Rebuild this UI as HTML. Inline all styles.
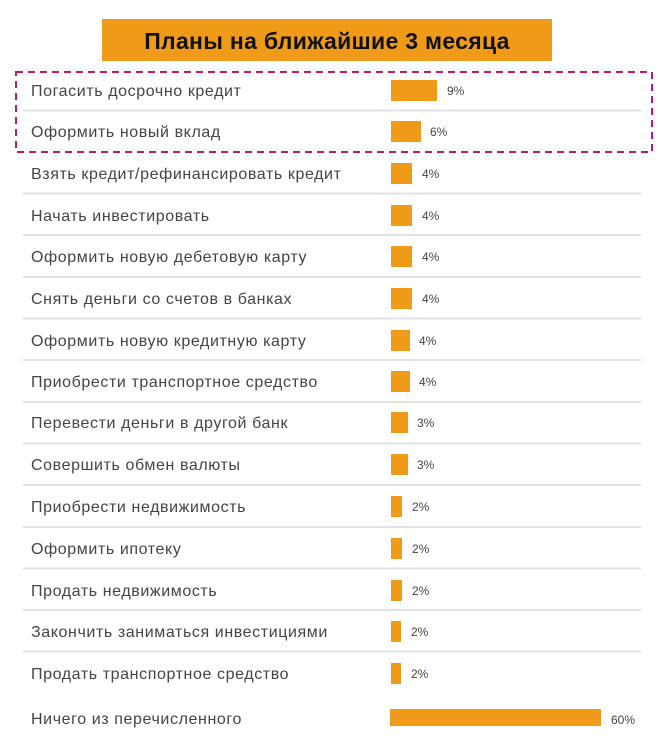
<!DOCTYPE html>
<html><head><meta charset="utf-8"><style>
html,body{margin:0;padding:0;background:#fff;}
svg{display:block;font-family:"Liberation Sans","DejaVu Sans",sans-serif;}
.l{font-size:16px;fill:#444;letter-spacing:0.6px;}
.p{font-size:12px;fill:#444;}
</style></head><body>
<svg width="669" height="743" viewBox="0 0 669 743">
<rect x="102" y="19" width="450" height="42" fill="#f09a1a"/>
<text x="327" y="49" text-anchor="middle" font-size="23" font-weight="bold" fill="#111" letter-spacing="0.3">Планы на ближайшие 3 месяца</text>
<rect x="16" y="72" width="636" height="80" fill="none" stroke="#c2186b" stroke-width="2" stroke-dasharray="7,5"/>
<g stroke="#e2e2e2" stroke-width="2">
<line x1="23" x2="641" y1="110.5" y2="110.5"/>
<line x1="23" x2="641" y1="193.5" y2="193.5"/>
<line x1="23" x2="641" y1="235" y2="235"/>
<line x1="23" x2="641" y1="277" y2="277"/>
<line x1="23" x2="641" y1="318.5" y2="318.5"/>
<line x1="23" x2="641" y1="360" y2="360"/>
<line x1="23" x2="641" y1="402" y2="402"/>
<line x1="23" x2="641" y1="443.5" y2="443.5"/>
<line x1="23" x2="641" y1="485" y2="485"/>
<line x1="23" x2="641" y1="527" y2="527"/>
<line x1="23" x2="641" y1="568.5" y2="568.5"/>
<line x1="23" x2="641" y1="610" y2="610"/>
<line x1="23" x2="641" y1="651.5" y2="651.5"/>
</g>
<g fill="#f09a1a">
<rect x="391" y="80" width="46" height="21"/>
<rect x="391" y="121" width="30" height="21"/>
<rect x="391" y="163" width="21" height="21"/>
<rect x="391" y="205" width="21" height="21"/>
<rect x="391" y="246" width="21" height="21"/>
<rect x="391" y="288" width="21" height="21"/>
<rect x="391" y="330" width="19" height="21"/>
<rect x="391" y="371" width="19" height="21"/>
<rect x="391" y="412" width="17" height="21"/>
<rect x="391" y="454" width="17" height="21"/>
<rect x="391" y="496" width="11" height="21"/>
<rect x="391" y="538" width="11" height="21"/>
<rect x="391" y="580" width="11" height="21"/>
<rect x="391" y="621" width="10" height="21"/>
<rect x="391" y="663" width="10" height="21"/>
<rect x="390" y="709" width="211" height="17"/>
</g>
<g class="l">
<text x="31" y="96">Погасить досрочно кредит</text>
<text x="31" y="137">Оформить новый вклад</text>
<text x="31" y="179">Взять кредит/рефинансировать кредит</text>
<text x="31" y="221">Начать инвестировать</text>
<text x="31" y="262">Оформить новую дебетовую карту</text>
<text x="31" y="304">Снять деньги со счетов в банках</text>
<text x="31" y="346">Оформить новую кредитную карту</text>
<text x="31" y="387">Приобрести транспортное средство</text>
<text x="31" y="428">Перевести деньги в другой банк</text>
<text x="31" y="470">Совершить обмен валюты</text>
<text x="31" y="512">Приобрести недвижимость</text>
<text x="31" y="554">Оформить ипотеку</text>
<text x="31" y="596">Продать недвижимость</text>
<text x="31" y="637">Закончить заниматься инвестициями</text>
<text x="31" y="679">Продать транспортное средство</text>
<text x="31" y="724">Ничего из перечисленного</text>
</g>
<g class="p">
<text x="447" y="95">9%</text>
<text x="430" y="136">6%</text>
<text x="422" y="178">4%</text>
<text x="422" y="220">4%</text>
<text x="422" y="261">4%</text>
<text x="422" y="303">4%</text>
<text x="419" y="345">4%</text>
<text x="419" y="386">4%</text>
<text x="417" y="427">3%</text>
<text x="417" y="469">3%</text>
<text x="412" y="511">2%</text>
<text x="412" y="553">2%</text>
<text x="412" y="595">2%</text>
<text x="411" y="636">2%</text>
<text x="411" y="678">2%</text>
<text x="611" y="724">60%</text>
</g>
</svg>
</body></html>
